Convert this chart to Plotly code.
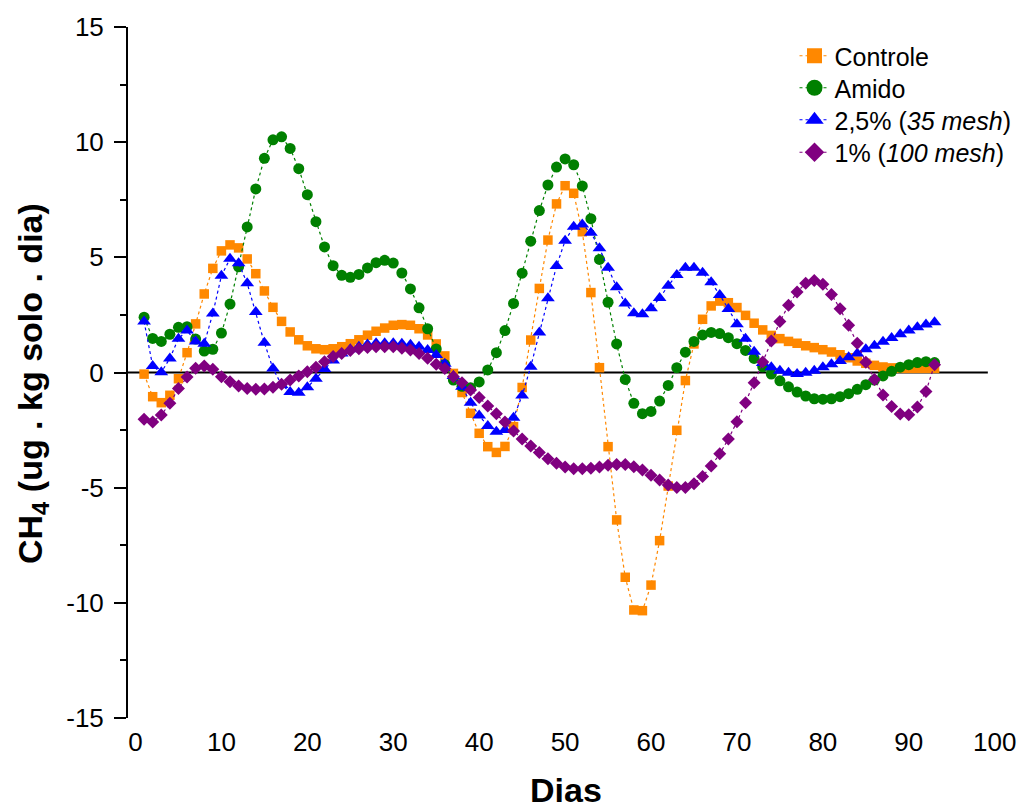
import plotly.graph_objects as go

days = list(range(1, 94))

controle = [-0.07, -1.05, -1.31, -0.99, -0.27, 0.86, 2.11, 3.41, 4.52, 5.28,
            5.54, 5.41, 4.93, 4.29, 3.54, 2.83, 2.22, 1.76, 1.42, 1.16,
            1.03, 0.99, 1.03, 1.12, 1.25, 1.42, 1.62, 1.79, 1.93, 2.05,
            2.08, 2.05, 1.90, 1.63, 1.24, 0.72, -0.04, -0.87, -1.77, -2.64,
            -3.22, -3.47, -3.21, -2.35, -0.65, 1.41, 3.65, 5.75, 7.32, 8.11,
            7.78, 6.11, 3.47, 0.21, -3.22, -6.40, -8.89, -10.31, -10.34, -9.23,
            -7.30, -4.93, -2.51, -0.35, 1.24, 2.31, 2.89, 3.10, 3.03, 2.82,
            2.48, 2.14, 1.85, 1.61, 1.47, 1.35, 1.27, 1.16, 1.08, 0.99,
            0.89, 0.77, 0.64, 0.50, 0.40, 0.31, 0.24, 0.20, 0.18, 0.18,
            0.18, 0.18, 0.18]

amido = [2.40, 1.48, 1.35, 1.66, 1.96, 1.99, 1.45, 0.93, 1.01, 1.71,
         2.97, 4.59, 6.32, 7.97, 9.30, 10.10, 10.23, 9.73, 8.85, 7.72,
         6.55, 5.45, 4.64, 4.22, 4.13, 4.26, 4.54, 4.77, 4.87, 4.75,
         4.32, 3.63, 2.81, 1.90, 1.02, 0.35, -0.33, -0.60, -0.66, -0.41,
         0.11, 0.86, 1.82, 3.00, 4.31, 5.70, 7.03, 8.14, 8.92, 9.27,
         9.02, 8.10, 6.68, 4.91, 3.05, 1.24, -0.30, -1.34, -1.79, -1.69,
         -1.24, -0.56, 0.21, 0.88, 1.35, 1.63, 1.74, 1.69, 1.51, 1.25,
         0.96, 0.61, 0.25, -0.07, -0.36, -0.62, -0.85, -1.02, -1.14, -1.16,
         -1.14, -1.05, -0.92, -0.73, -0.53, -0.33, -0.15, 0.05, 0.23, 0.34,
         0.43, 0.47, 0.43]

mesh35 = [2.21, 0.28, 0.01, 0.61, 1.47, 1.82, 1.35, 1.25, 2.56, 4.20,
          4.94, 4.74, 3.87, 2.63, 1.29, 0.17, -0.54, -0.85, -0.88, -0.64,
          -0.27, 0.15, 0.52, 0.83, 1.01, 1.12, 1.22, 1.27, 1.27, 1.27,
          1.25, 1.21, 1.12, 0.98, 0.76, 0.38, -0.15, -0.62, -1.31, -1.87,
          -2.32, -2.57, -2.50, -1.96, -1.00, 0.25, 1.74, 3.22, 4.62, 5.72,
          6.33, 6.43, 6.07, 5.39, 4.55, 3.70, 3.00, 2.57, 2.53, 2.79,
          3.23, 3.77, 4.23, 4.55, 4.55, 4.33, 3.92, 3.37, 2.76, 2.09,
          1.47, 0.90, 0.41, 0.23, 0.08, -0.01, -0.07, -0.01, 0.08, 0.23,
          0.36, 0.50, 0.66, 0.83, 1.01, 1.16, 1.34, 1.50, 1.66, 1.82,
          1.96, 2.08, 2.18]

mesh100 = [-2.03, -2.15, -1.85, -1.34, -0.70, -0.20, 0.18, 0.28, 0.14, -0.18,
           -0.40, -0.59, -0.70, -0.73, -0.72, -0.64, -0.51, -0.33, -0.15, 0.03,
           0.23, 0.47, 0.69, 0.83, 0.95, 1.03, 1.09, 1.12, 1.12, 1.12,
           1.05, 0.98, 0.83, 0.62, 0.36, 0.17, -0.18, -0.45, -0.76, -1.09,
           -1.45, -1.79, -2.15, -2.54, -2.89, -3.19, -3.47, -3.74, -3.94, -4.10,
           -4.18, -4.18, -4.16, -4.10, -4.03, -3.99, -3.99, -4.09, -4.23, -4.46,
           -4.67, -4.88, -4.99, -4.99, -4.83, -4.52, -4.06, -3.53, -2.89, -2.14,
           -1.31, -0.44, 0.46, 1.37, 2.21, 2.92, 3.50, 3.87, 3.99, 3.83,
           3.39, 2.77, 2.05, 1.27, 0.44, -0.30, -0.98, -1.48, -1.80, -1.83,
           -1.50, -0.82, 0.34]

names = ["Controle", "Amido", "2,5% (<i>35 mesh</i>)", "1% (<i>100 mesh</i>)"]
colors = ["#FF8800", "#008000", "#0000FF", "#800080"]
symbols = ["square", "circle", "triangle-up", "diamond"]
sizes = [9.5, 11, 12, 10]
legend_sizes = [15, 16, 18, 15]
series = [controle, amido, mesh35, mesh100]

x_ticks = list(range(0, 101, 10))
y_ticks = [-15, -10, -5, 0, 5, 10, 15]
y_ticktext = ["-15", "-10", "-5", "0", "5", "10", "15"]

FONT = "Liberation Sans, Arial, sans-serif"

# layout constants (pixels of the 1024x810 canvas)
W, H = 1024, 810
ML, MR, MT, MB = 128, 24.6, 27, 92
PW, PH = W - ML - MR, H - MT - MB
legend_keys = ["legend", "legend2", "legend3", "legend4"]
legend_rows_px = [56, 88, 120, 152.5]

fig = go.Figure()
for name, col, sym, sz, ys in zip(names, colors, symbols, sizes, series):
    fig.add_trace(go.Scatter(
        x=days, y=ys, mode="lines+markers", name=name, showlegend=False,
        line=dict(color=col, width=1.2, dash="dot"),
        marker=dict(symbol=sym, size=sz, color=col, line=dict(width=0)),
    ))
for name, col, sym, lsz, lk in zip(names, colors, symbols, legend_sizes, legend_keys):
    fig.add_trace(go.Scatter(
        x=[None], y=[None], mode="lines+markers", name=name, legend=lk,
        line=dict(color=col, width=1.2, dash="dot"),
        marker=dict(symbol=sym, size=lsz, color=col, line=dict(width=0)),
    ))

x_lo, x_hi = -0.873, 100.5
fig.add_shape(type="line", xref="x", yref="y", x0=x_lo, x1=99.2, y0=0, y1=0,
              line=dict(color="black", width=2), layer="below")

legend_common = dict(xref="container", yref="container",
                     xanchor="left", yanchor="middle",
                     font=dict(size=25, family=FONT, color="black"),
                     bgcolor="rgba(0,0,0,0)", itemwidth=30)
legend_layout = {}
for lk, py in zip(legend_keys, legend_rows_px):
    legend_layout[lk] = dict(x=794.5 / W, y=1 - py / H, **legend_common)

fig.update_layout(
    width=W, height=H,
    margin=dict(l=ML, r=MR, t=MT, b=MB, autoexpand=False),
    paper_bgcolor="white", plot_bgcolor="white",
    font=dict(family=FONT, color="black", size=26),
    xaxis=dict(range=[x_lo, x_hi], showline=False, showgrid=False, zeroline=False,
               ticks="", tickvals=x_ticks, tickfont=dict(size=26),
               ticklabelstandoff=6),
    yaxis=dict(range=[-15, 15], showline=True, linecolor="black", linewidth=2,
               showgrid=False, zeroline=False, ticks="outside", ticklen=12,
               tickwidth=2, tickcolor="black", tickvals=y_ticks, ticktext=y_ticktext,
               tickfont=dict(size=26), ticklabelstandoff=5,
               minor=dict(dtick=2.5, tick0=0, ticks="outside", ticklen=6,
                          tickwidth=2, tickcolor="black")),
    **legend_layout,
)

fig.add_annotation(text="<b>Dias</b>", xref="paper", yref="paper",
                   x=(566 - ML) / PW, y=0, yshift=-(790 - (H - MB)),
                   xanchor="center", yanchor="middle", showarrow=False,
                   font=dict(size=34, family=FONT, color="black"))
fig.add_annotation(text="<b>CH<sub>4</sub> (ug . kg solo . dia)</b>",
                   xref="paper", yref="paper", x=0, xshift=33 - ML,
                   y=1 - (384 - MT) / PH, textangle=-90,
                   xanchor="center", yanchor="middle", showarrow=False,
                   font=dict(size=34, family=FONT, color="black"))

fig.write_html("out.html")
